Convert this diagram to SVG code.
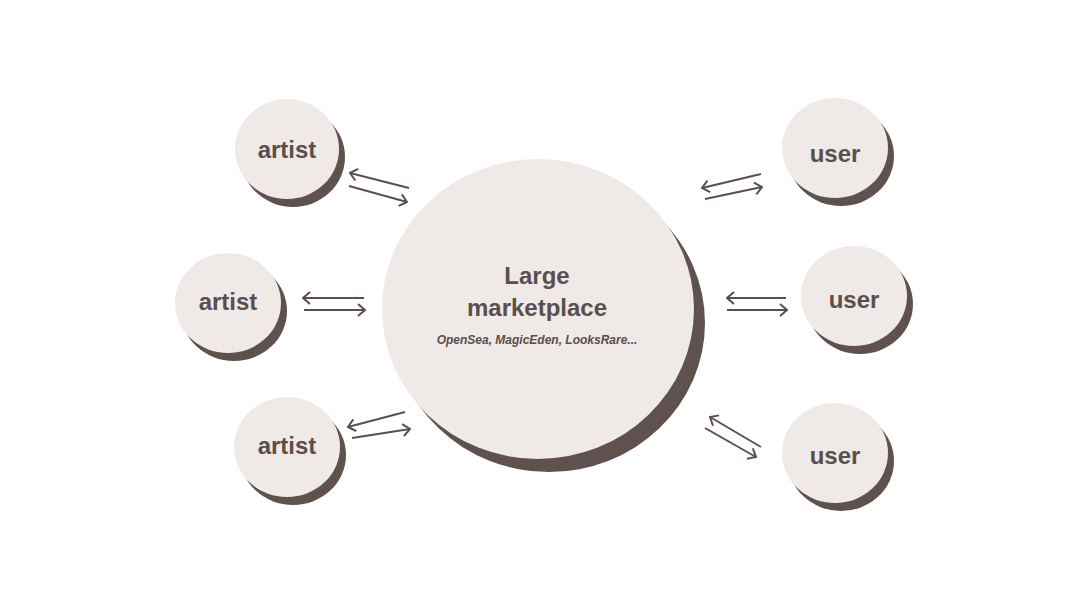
<svg xmlns="http://www.w3.org/2000/svg" width="1088" height="612" viewBox="0 0 1088 612">
<defs>
<style>
.bg{fill:#ffffff}
.shadow{fill:#5e514e}
.face{fill:#efe9e7}
.lbl{font-family:"Liberation Sans",Arial,sans-serif;font-weight:bold;font-size:24px;fill:#5a4f4c;text-anchor:middle}
.sub{font-family:"Liberation Sans",Arial,sans-serif;font-weight:bold;font-style:italic;font-size:12px;fill:#5a4f4c;text-anchor:middle}
.arr{stroke:#5a4f4c;stroke-width:2;fill:none;marker-end:url(#head)}
</style>
<marker id="head" viewBox="0 0 10 14" refX="9" refY="7" markerWidth="10" markerHeight="14" markerUnits="userSpaceOnUse" orient="auto">
<path d="M2,1 L9,7 L2,13" fill="none" stroke="#5a4f4c" stroke-width="2"/>
</marker>
</defs>
<rect class="bg" x="0" y="0" width="1088" height="612"/>
<g id="connectors">
<line class="arr" x1="409" y1="188" x2="350" y2="173"/>
<line class="arr" x1="349" y1="186" x2="407" y2="202"/>
<line class="arr" x1="761" y1="174" x2="702" y2="188"/>
<line class="arr" x1="705" y1="199" x2="762" y2="187"/>
<line class="arr" x1="364" y1="298" x2="303" y2="298"/>
<line class="arr" x1="304" y1="310" x2="365" y2="310"/>
<line class="arr" x1="405" y1="412" x2="348" y2="427"/>
<line class="arr" x1="352" y1="438" x2="410" y2="429"/>
<line class="arr" x1="761" y1="447" x2="710" y2="417"/>
<line class="arr" x1="705" y1="428" x2="756" y2="457"/>
<line class="arr" x1="786" y1="298" x2="727" y2="298"/>
<line class="arr" x1="727" y1="310" x2="787" y2="310"/>
</g>
<g id="marketplace">
<ellipse class="shadow" cx="549" cy="323" rx="156" ry="149"/>
<ellipse class="face" cx="538" cy="309" rx="156" ry="150"/>
<text class="lbl" x="537" y="284">Large</text>
<text class="lbl" x="537" y="316">marketplace</text>
<text class="sub" x="537" y="344">OpenSea, MagicEden, LooksRare...</text>
</g>
<g id="artist1">
<ellipse class="shadow" cx="293" cy="157" rx="52" ry="50"/>
<ellipse class="face" cx="287" cy="149" rx="52" ry="50"/>
<text class="lbl" x="287" y="158">artist</text>
</g>
<g id="artist2">
<ellipse class="shadow" cx="234" cy="311" rx="53" ry="50"/>
<ellipse class="face" cx="228" cy="303" rx="53" ry="50"/>
<text class="lbl" x="228" y="310">artist</text>
</g>
<g id="artist3">
<ellipse class="shadow" cx="293" cy="455" rx="53" ry="50"/>
<ellipse class="face" cx="287" cy="447" rx="53" ry="50"/>
<text class="lbl" x="287" y="454">artist</text>
</g>
<g id="user1">
<ellipse class="shadow" cx="841" cy="156" rx="53" ry="50"/>
<ellipse class="face" cx="835" cy="148" rx="53" ry="50"/>
<text class="lbl" x="835" y="162">user</text>
</g>
<g id="user2">
<ellipse class="shadow" cx="860" cy="304" rx="53" ry="50"/>
<ellipse class="face" cx="854" cy="296" rx="53" ry="50"/>
<text class="lbl" x="854" y="308">user</text>
</g>
<g id="user3">
<ellipse class="shadow" cx="841" cy="461" rx="53" ry="50"/>
<ellipse class="face" cx="835" cy="453" rx="53" ry="50"/>
<text class="lbl" x="835" y="464">user</text>
</g>
</svg>
